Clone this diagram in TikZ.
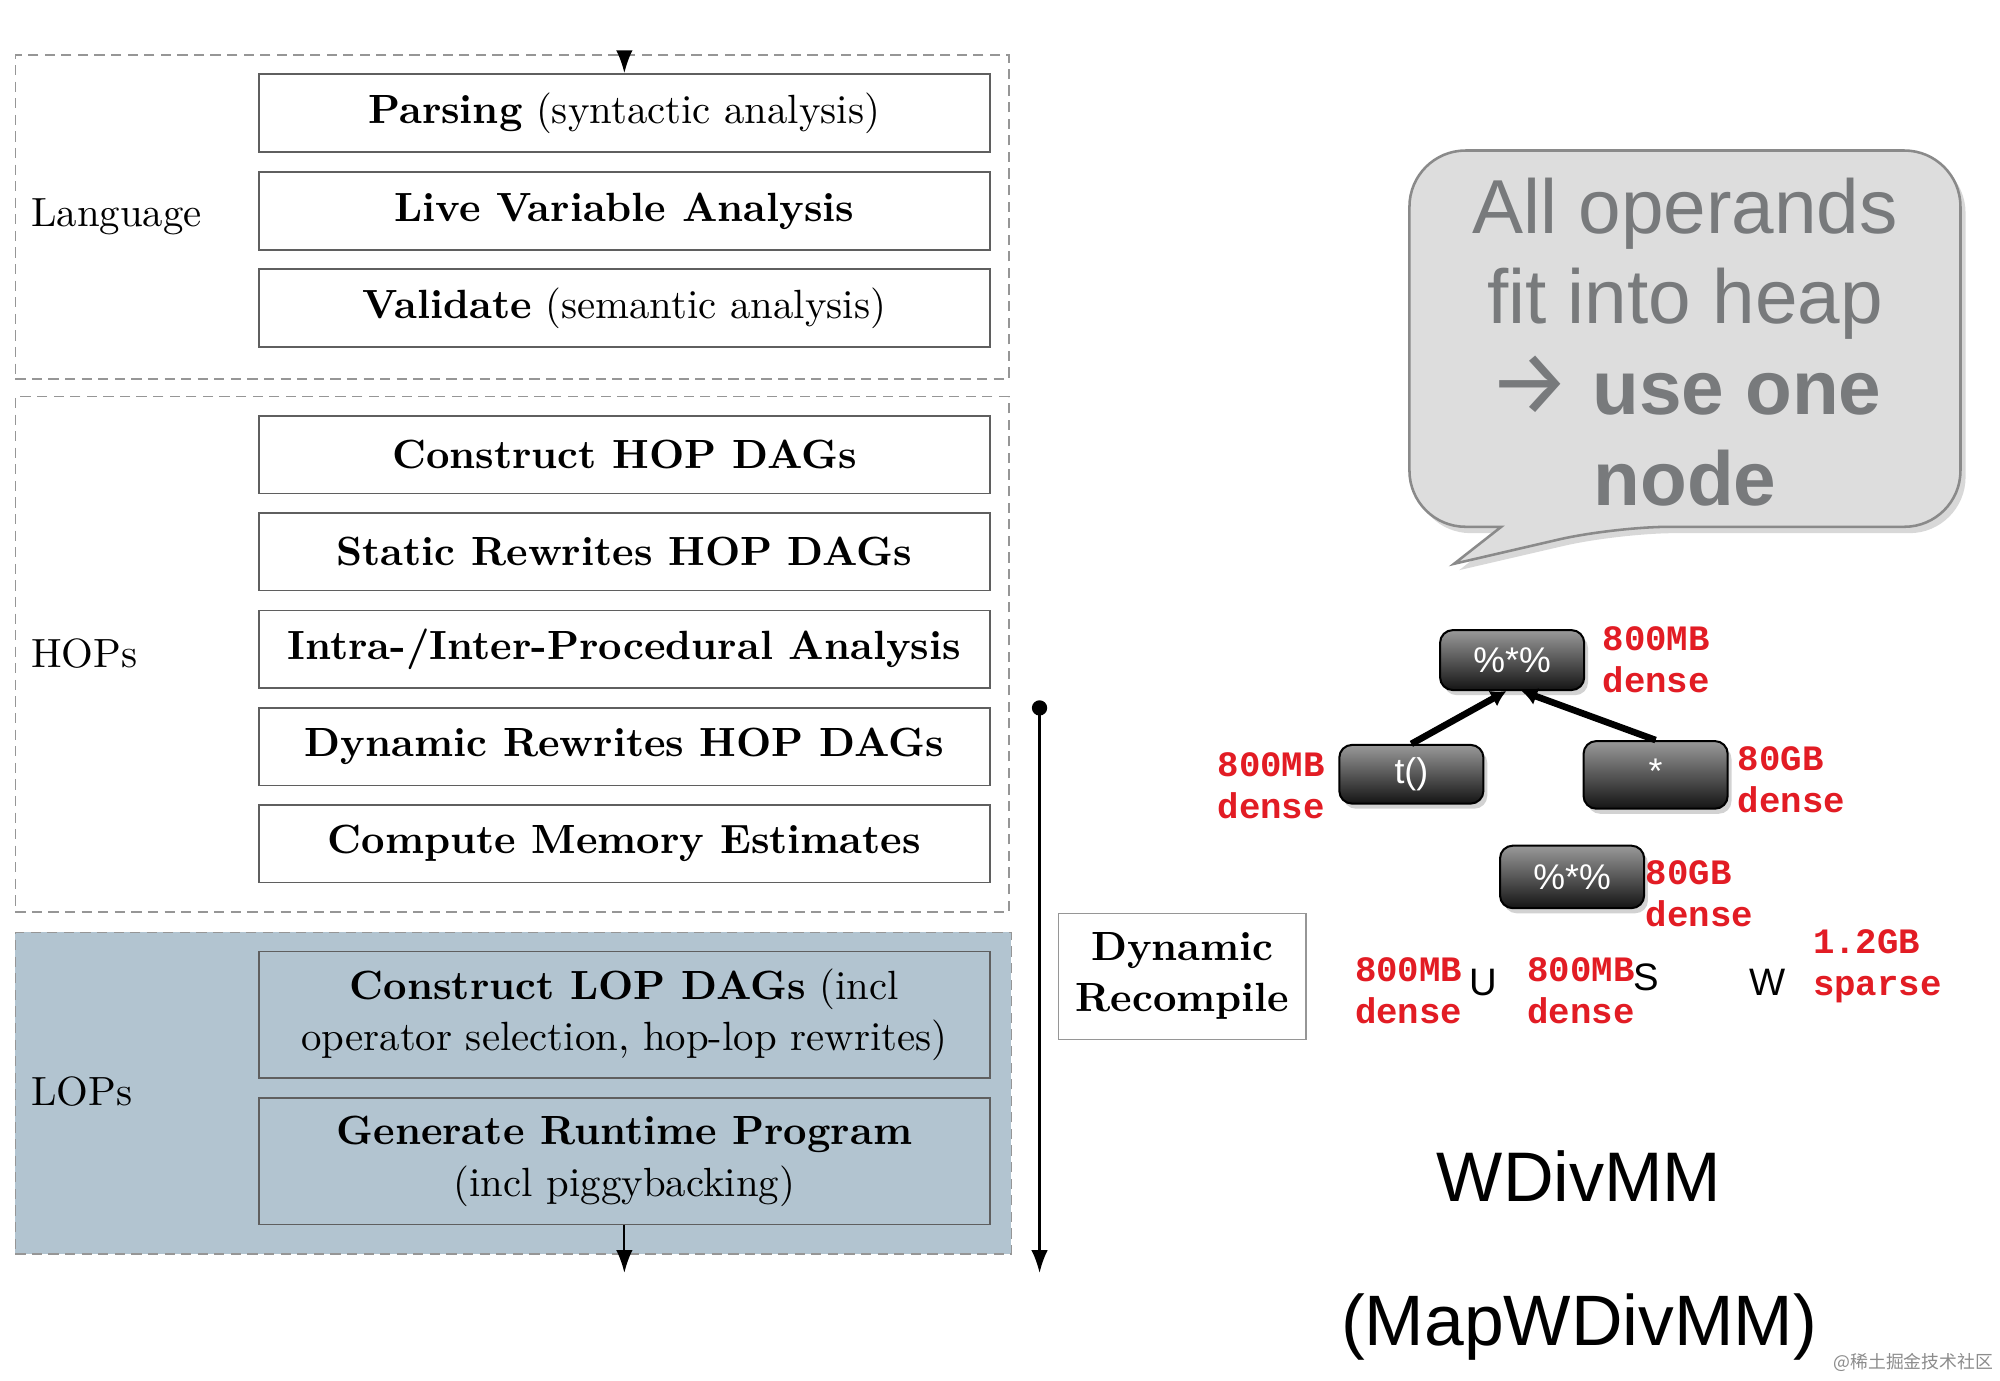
\documentclass[tikz,border=0pt]{standalone}
\usepackage{fontspec}
\setmainfont{lmroman10-regular.otf}[BoldFont=lmroman10-bold.otf, ItalicFont=lmroman10-italic.otf, BoldItalicFont=lmroman10-bolditalic.otf]
\newfontfamily\hv{Liberation Sans}
\newfontfamily\arrowfont{Fira Sans}
\newfontfamily\cour{Liberation Mono}
\newfontfamily\cjk{Noto Sans CJK SC}
\usetikzlibrary{arrows.meta,shadows,calc}
\definecolor{lopfill}{RGB}{178,196,208}
\definecolor{boxline}{RGB}{95,95,95}
\definecolor{dashline}{RGB}{150,150,150}
\definecolor{bubblefill}{RGB}{221,221,221}
\definecolor{bubbleline}{RGB}{138,138,138}
\definecolor{bubbletext}{RGB}{120,122,124}
\definecolor{myred}{RGB}{226,28,36}
\begin{document}
\begin{tikzpicture}[x=0.5pt,y=-0.5pt,
  stagebox/.style={draw=boxline, line width=0.6pt, minimum width=286.5pt, minimum height=30.5pt, inner sep=0pt, align=center, font=\fontsize{16}{20}\selectfont},
  tallbox/.style={stagebox, minimum height=49.5pt},
  groupbox/.style={draw=dashline, line width=0.6pt, dash pattern=on 4pt off 2.5pt, inner sep=0pt, minimum width=389.5pt},
  grouplbl/.style={anchor=west, inner sep=0pt, font=\fontsize{16}{20}\selectfont},
  flowarrow/.style={line width=0.85pt, -{Latex[length=9pt,width=6.5pt]}},
  opnode/.style={rounded corners=5pt, draw=black, line width=0.8pt, top color=black!40, bottom color=black!92, text=white, font=\hv\fontsize{14}{16}\selectfont, minimum width=56.5pt, inner sep=0pt, drop shadow={shadow xshift=1.5pt, shadow yshift=-2pt, opacity=0.35}},
  treearrow/.style={line width=2.6pt, -{Latex[length=6pt,width=7pt]}},
  redlbl/.style={font=\cour\bfseries\fontsize{14}{16.5}\selectfont, text=myred, align=left, inner sep=0pt},
  letter/.style={font=\hv\fontsize{15}{15}\selectfont, inner sep=0pt}
]
\useasboundingbox (0,0) rectangle (1568,1082);
\fill[white] (0,0) rectangle (1568,1082);

% group boxes
\node[groupbox, minimum height=127pt] (lang) at (401.5,170) {};
\node[groupbox, minimum height=202pt] (hops) at (401.5,513) {};
\node[groupbox, fill=lopfill, minimum width=390.5pt, minimum height=126pt] (lops) at (402.5,857) {};

\node[grouplbl] (langlbl) at (24,170) {Language};
\node[grouplbl] (hopslbl) at (24,512) {HOPs};
\node[grouplbl] (lopslbl) at (24,856) {LOPs};

% stage boxes
\node[stagebox] (parse) at (489.5,88.5) {\textbf{Parsing} (syntactic analysis)};
\node[stagebox] (live) at (489.5,165.5) {\textbf{Live Variable Analysis}};
\node[stagebox] (valid) at (489.5,241.5) {\textbf{Validate} (semantic analysis)};
\node[stagebox] (chop) at (489.5,356.5) {\textbf{Construct HOP DAGs}};
\node[stagebox] (srw) at (489.5,432.5) {\textbf{Static Rewrites HOP DAGs}};
\node[stagebox] (ipa) at (489.5,509) {\textbf{Intra-/Inter-Procedural Analysis}};
\node[stagebox] (drw) at (489.5,585.5) {\textbf{Dynamic Rewrites HOP DAGs}};
\node[stagebox] (cme) at (489.5,661.5) {\textbf{Compute Memory Estimates}};
\node[tallbox] (clop) at (489.5,795.5) {\textbf{Construct LOP DAGs} (incl\\operator selection, hop-lop rewrites)};
\node[tallbox] (grp) at (489.5,910.5) {\textbf{Generate Runtime Program}\\(incl piggybacking)};

% flow arrows
\coordinate (flowin) at (489.5,40);
\coordinate (flowout) at (489.5,998);
\draw[flowarrow] (flowin) -- (parse.north);
\draw[flowarrow] (grp.south) -- (flowout);

% dynamic recompile
\node[draw=dashline, line width=0.6pt, minimum width=97pt, minimum height=49.5pt, inner sep=0pt, align=center, font=\fontsize{16}{20}\selectfont] (dynrc) at (927,765.5) {\textbf{Dynamic}\\\textbf{Recompile}};
\node[circle, fill=black, inner sep=0pt, minimum size=6pt] (dot) at (815,555) {};
\coordinate (dynend) at (815,998);
\draw[flowarrow] (dot.center) -- (dynend);

% speech bubble
\path[draw=bubbleline, line width=1pt, fill=bubblefill, drop shadow={shadow xshift=2pt, shadow yshift=-2.5pt, opacity=0.3}]
  [rounded corners=22pt] (1105,118) -- (1537,118) -- (1537,413) -- (1265,413)
  [sharp corners] -- (1140,442) -- (1177,413)
  [rounded corners=22pt] -- (1105,413) -- cycle;
\node[align=center, text=bubbletext, font=\hv\fontsize{30}{35.5}\selectfont, inner sep=0pt] (bubbletxt) at (1321,268)
  {All operands\\fit into heap\\{\arrowfont\fontsize{36}{35.5}\selectfont →} \textbf{use one}\\\textbf{node}};

% operator tree
\node[opnode, minimum height=23.5pt] (mm1) at (1185.5,517.5) {\%*\%};
\node[opnode, minimum height=23pt] (tr) at (1106.5,607) {t()};
\node[opnode, minimum height=26.5pt] (mul) at (1298,607.5) {\raisebox{3pt}{*}};
\node[opnode, minimum height=24.5pt] (mm2) at (1232.5,687.5) {\%*\%};
\draw[treearrow] (tr.north) -- ([xshift=-2.25pt]mm1.south);
\draw[treearrow] (mul.north) -- ([xshift=3.75pt]mm1.south);

% size labels
\node[redlbl, anchor=west] (l1) at (1256,517.5) {800MB\\dense};
\node[redlbl, anchor=east] (l2) at (1039,616) {800MB\\dense};
\node[redlbl, anchor=west] (l3) at (1362,611.5) {80GB\\dense};
\node[redlbl, anchor=west] (l4) at (1290,701) {80GB\\dense};
\node[redlbl, anchor=west] (l5) at (1062,776.5) {800MB\\dense};
\node[redlbl, anchor=west] (l6) at (1197,776.5) {800MB\\dense};
\node[redlbl, anchor=west] (l7) at (1421,757.5) {1.2GB\\sparse};

\node[letter] (U) at (1163,770) {U};
\node[letter] (S) at (1291,766) {S};
\node[letter] (W) at (1386,770) {W};

\node[font=\hv\fontsize{27.5}{30}\selectfont, inner sep=0pt] (wdiv) at (1238,922) {WDivMM};
\node[font=\hv\fontsize{28}{30}\selectfont, inner sep=0pt] (mapw) at (1238,1040) {(MapWDivMM)};

\node[font=\cjk\fontsize{7}{8}\selectfont, text=black!45, inner sep=0pt] (wm) at (1500,1068) {@稀土掘金技术社区};
\end{tikzpicture}
\end{document}
